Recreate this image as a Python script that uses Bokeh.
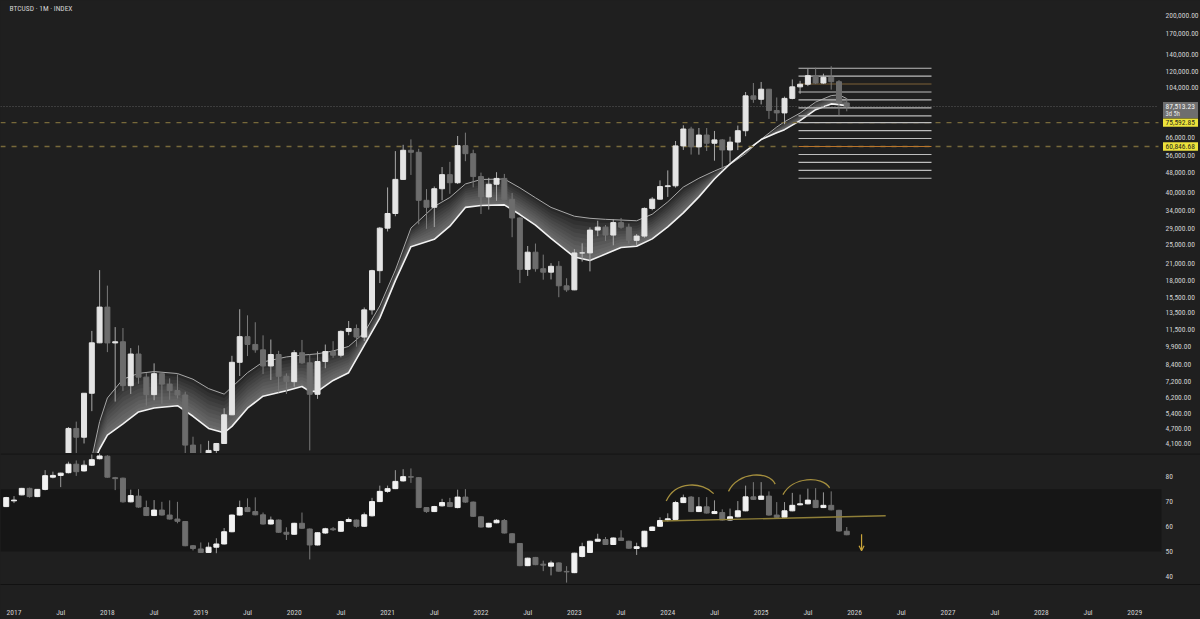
import numpy as np
from bokeh.plotting import figure
from bokeh.layouts import column
from bokeh.models import (Range1d, Label, FixedTicker, BoxAnnotation, Span, Arrow,
                          OpenHead, ColumnDataSource)
from bokeh.embed import file_html
from bokeh.resources import INLINE

# ---------------- data ----------------
months = [f"{y}-{m:02d}" for y in range(2017, 2026) for m in range(1, 13)]

btc_open = [963, 970, 1190, 1080, 1350, 2300, 2480, 2870, 4700, 4340, 6470, 10230,
            14150, 10220, 10330, 6930, 9240, 7490, 6390, 7730, 7030, 6630, 6370, 4040,
            3740, 3460, 3850, 4100, 5320, 8570, 10820, 10080, 9600, 8290, 9200, 7550,
            7190, 9350, 8530, 6410, 8630, 9450, 9140, 11350, 11650, 10780, 13800, 19700,
            28990, 33110, 45140, 58800, 57750, 37330, 35040, 41460, 47130, 43790, 61310, 57000,
            46300, 38480, 43190, 45540, 37640, 31800, 19940, 23300, 20050, 19430, 20500, 17170,
            16550, 23140, 23150, 28480, 29250, 27220, 30480, 29230, 25940, 26970, 34670, 37720,
            42280, 42580, 61180, 71330, 60640, 67530, 62680, 64620, 58970, 63330, 70220, 96400,
            93430, 102400, 84350, 82550, 94200, 104600, 107100, 115800, 108300, 114100, 109600, 90400]
btc_high = [1190, 1200, 1350, 1430, 2760, 2980, 2920, 4760, 5000, 6470, 11400, 19800,
            17200, 11800, 11700, 9750, 9990, 7760, 8490, 7760, 7410, 7680, 6560, 4360,
            4070, 4200, 4120, 5650, 9090, 13880, 13130, 12330, 10950, 10540, 9510, 7750,
            9570, 10500, 9190, 9460, 10070, 10380, 11450, 12470, 12080, 14100, 19860, 29300,
            41950, 58350, 61790, 64900, 59600, 41330, 42320, 50500, 52920, 66930, 69000, 59100,
            47990, 45800, 48190, 47440, 39900, 31990, 24650, 25200, 22790, 21090, 21480, 18390,
            23950, 25250, 29180, 31000, 29820, 31390, 31800, 30190, 27480, 35000, 38420, 44730,
            48970, 63970, 73780, 72800, 71980, 71950, 70080, 65100, 66500, 73600, 99800, 108300,
            109350, 102500, 95000, 95750, 111900, 110500, 123200, 124500, 117900, 126200, 111200, 94500]
btc_low = [750, 920, 890, 1060, 1340, 2080, 1830, 2670, 2970, 4100, 5500, 10200,
           9400, 6000, 6600, 6430, 7050, 5780, 6070, 5880, 6100, 6170, 3650, 3150,
           3400, 3390, 3730, 4100, 5310, 7570, 9070, 9350, 7710, 7300, 6520, 6430,
           6870, 8450, 3850, 6150, 8120, 8930, 8970, 10960, 9880, 10400, 13220, 17600,
           28130, 32300, 44960, 47000, 30000, 28800, 29280, 37330, 39600, 43290, 53250, 42000,
           32950, 34320, 37160, 37700, 26700, 17600, 18780, 19520, 18150, 18190, 15480, 16260,
           16500, 21400, 19570, 26950, 25800, 24800, 28860, 25170, 24900, 26560, 34100, 37630,
           38500, 41880, 59000, 56550, 56500, 58400, 53500, 49000, 52550, 58900, 66800, 90500,
           89200, 78200, 76600, 74500, 93400, 98200, 105300, 107300, 107300, 102000, 80600, 83800]
btc_close = [970, 1190, 1080, 1350, 2300, 2480, 2870, 4700, 4340, 6470, 10230, 14150,
             10220, 10330, 6930, 9240, 7490, 6390, 7730, 7030, 6630, 6370, 4040, 3740,
             3460, 3850, 4100, 5320, 8570, 10820, 10080, 9600, 8290, 9200, 7550, 7190,
             9350, 8530, 6410, 8630, 9450, 9140, 11350, 11650, 10780, 13800, 19700, 28990,
             33110, 45140, 58800, 57750, 37330, 35040, 41460, 47130, 43790, 61310, 57000, 46300,
             38480, 43190, 45540, 37640, 31800, 19940, 23300, 20050, 19430, 20500, 17170, 16550,
             23140, 23150, 28480, 29250, 27220, 30480, 29230, 25940, 26970, 34670, 37720, 42280,
             42580, 61180, 71330, 60640, 67530, 62680, 64620, 58970, 63330, 70220, 96400, 93430,
             102400, 84350, 82550, 94200, 104600, 107100, 115800, 108300, 114100, 109600, 90400, 87513.23]

# ribbon (two bands)
ribbon_months = ["2017-11", "2017-12", "2018-01", "2018-03", "2018-05", "2018-07", "2018-10", "2018-12",
                 "2019-02", "2019-04", "2019-05", "2019-07", "2019-09", "2019-12", "2020-02", "2020-03",
                 "2020-04", "2020-06", "2020-08", "2020-10", "2020-12", "2021-02", "2021-04", "2021-07",
                 "2021-09", "2021-11", "2022-01", "2022-04", "2022-06", "2022-08", "2022-10", "2023-01",
                 "2023-03", "2023-05", "2023-07", "2023-09", "2023-11", "2024-01", "2024-03", "2024-05",
                 "2024-07", "2024-09", "2024-11", "2025-01", "2025-03", "2025-04", "2025-06", "2025-08",
                 "2025-10", "2025-11", "2025-12"]
ribbon_upper = [3600, 5000, 6200, 7350, 7750, 7880, 7740, 7350, 6750, 6420, 6850, 7800, 8600, 9000,
                9150, 9200, 9260, 9500, 9900, 11200, 14300, 19800, 29000, 35300, 38300, 43300, 45100,
                45300, 41800, 38200, 35000, 32300, 31700, 31400, 31200, 31000, 32900, 36800, 42100,
                45600, 48700, 51700, 57000, 65000, 72600, 76200, 82400, 91100, 96600, 97300, 94000]
ribbon_lower = [3300, 3900, 4420, 4900, 5460, 5660, 5780, 5250, 4700, 4520, 4790, 5650, 6300, 6620,
                6880, 6580, 6580, 7270, 7800, 10000, 12800, 18000, 24500, 26200, 29500, 35000, 35600,
                35800, 32800, 29800, 26400, 22300, 21600, 22900, 24300, 24600, 26300, 29300, 33300,
                38500, 45300, 52000, 58300, 64800, 69000, 70900, 77000, 85000, 89600, 89000, 88000]

# price levels drawn to the right
level_values = [123900, 115300, 107300, 99800, 92900, 86400, 80400, 75592.85, 70300, 65400,
                60846.68, 56600, 52700, 49000, 45600]
level_colors = ["#bdbdbd", "#bdbdbd", "#7e6238", "#bdbdbd", "#bdbdbd", "#bdbdbd", "#bdbdbd",
                "#bdbdbd", "#bdbdbd", "#bdbdbd", "#b8742c", "#bdbdbd", "#bdbdbd", "#bdbdbd", "#bdbdbd"]
key_levels = [75592.85, 60846.68]
last_price = 87513.23
countdown = "3d 5h"

price_ticks = [200000, 170000, 140000, 120000, 104000, 66000, 56000, 48000, 40000, 34000, 29000,
               25000, 21000, 18000, 15500, 13500, 11500, 9900, 8400, 7200, 6200, 5400, 4700, 4100]

# RSI candles (Dec 2016 .. Dec 2025)
rsi_months = ["2016-12"] + months
rsi_open = [68.0, 70.3, 72.7, 75.3, 72.0, 74.9, 79.8, 80.5, 81.6, 85.0, 82.3, 84.6, 87.2,
            88.2, 79.6, 79.4, 69.9, 72.2, 67.6, 64.4, 66.6, 64.6, 63.0, 62.0, 52.3,
            51.0, 49.6, 51.7, 53.0, 57.9, 64.6, 67.6, 66.0, 64.7, 61.0, 62.6, 57.7,
            56.9, 61.3, 59.0, 52.6, 57.4, 59.1, 58.1, 62.0, 62.6, 60.1, 64.3, 70.0,
            74.1, 75.2, 78.3, 80.0, 79.6, 67.6, 66.0, 68.3, 69.6, 67.6, 71.8, 69.8,
            63.9, 59.8, 61.5, 62.4, 57.1, 53.2, 44.3, 47.6, 44.9, 44.1, 45.4, 42.0,
            41.5, 48.0, 49.6, 54.1, 54.8, 52.8, 55.4, 54.1, 51.2, 51.9, 58.4, 60.1,
            62.6, 62.8, 69.6, 71.8, 66.0, 67.9, 65.2, 65.6, 62.6, 63.9, 66.3, 71.9,
            70.9, 72.2, 64.6, 63.7, 66.3, 68.7, 69.1, 70.5, 67.6, 68.5, 66.5, 58.1]
rsi_high = [71.9, 72.2, 75.5, 75.6, 75.0, 82.6, 82.0, 81.6, 86.0, 86.5, 86.5, 88.9, 91.0,
            88.6, 79.9, 79.6, 74.8, 75.0, 70.4, 70.6, 69.9, 70.5, 69.9, 62.2, 52.6,
            53.6, 53.6, 55.3, 59.4, 64.8, 70.4, 71.3, 71.7, 65.6, 64.0, 62.8, 59.7,
            61.5, 65.6, 59.2, 57.7, 59.5, 59.8, 62.3, 63.6, 62.8, 65.6, 71.5, 76.4,
            76.4, 82.6, 83.0, 83.3, 79.8, 67.8, 68.3, 71.1, 71.5, 74.8, 75.0, 70.0,
            64.0, 61.5, 63.0, 63.0, 57.3, 53.4, 47.5, 47.8, 46.3, 46.3, 45.6, 44.1,
            49.5, 53.5, 54.3, 57.1, 55.8, 55.6, 58.5, 54.3, 53.5, 58.3, 60.0, 63.7,
            65.3, 70.3, 72.8, 72.2, 71.8, 71.8, 70.5, 66.9, 67.2, 70.2, 76.4, 77.8,
            77.8, 74.1, 69.8, 69.8, 73.5, 72.8, 75.2, 75.4, 73.7, 74.1, 66.7, 59.8]
rsi_low = [67.8, 69.4, 72.5, 71.6, 71.8, 74.5, 79.3, 75.8, 81.3, 80.3, 82.0, 84.3, 86.9,
           79.6, 74.6, 69.6, 69.7, 67.5, 64.2, 64.2, 64.4, 62.8, 61.3, 52.1, 50.4,
           49.4, 49.4, 49.3, 52.8, 57.7, 64.4, 65.8, 64.5, 60.8, 60.8, 57.5, 54.6,
           56.7, 59.1, 46.8, 52.4, 57.0, 58.2, 57.8, 61.9, 59.6, 59.8, 64.0, 69.8,
           73.5, 75.0, 78.0, 77.5, 67.4, 65.5, 65.8, 68.0, 67.8, 67.3, 69.5, 63.9,
           59.6, 59.6, 61.3, 57.2, 53.3, 44.1, 44.1, 44.5, 42.1, 40.4, 41.9, 37.5,
           41.3, 47.6, 49.4, 54.0, 52.6, 52.6, 54.2, 51.1, 48.6, 51.7, 58.2, 59.9,
           62.0, 62.6, 69.4, 65.8, 65.8, 65.2, 65.0, 62.4, 62.4, 63.7, 66.1, 70.7,
           70.7, 64.4, 63.5, 63.5, 66.1, 68.5, 68.9, 67.4, 67.4, 66.5, 58.0, 56.5]
rsi_close = [71.6, 70.6, 75.3, 72.0, 74.9, 80.4, 80.5, 81.4, 85.0, 82.0, 84.6, 86.8, 88.3,
             79.8, 79.2, 69.9, 72.4, 67.8, 64.4, 66.6, 64.6, 63.0, 62.1, 52.3, 51.2,
             49.6, 51.7, 53.0, 57.9, 64.6, 67.6, 66.0, 64.7, 61.0, 62.6, 57.7, 56.9,
             61.3, 59.3, 52.6, 57.5, 59.1, 58.7, 62.0, 62.8, 60.1, 64.7, 70.0, 74.1,
             75.2, 78.1, 80.0, 79.8, 67.6, 66.0, 68.0, 69.6, 68.0, 71.8, 69.8, 64.1,
             59.8, 61.3, 62.5, 57.4, 53.5, 44.3, 47.3, 44.7, 44.5, 45.4, 42.1, 41.8,
             49.3, 51.9, 54.1, 54.9, 52.8, 55.4, 54.4, 51.3, 51.9, 58.1, 59.8, 62.4,
             63.1, 69.6, 71.5, 66.0, 67.9, 65.4, 66.0, 62.6, 63.9, 66.3, 71.9, 70.9,
             72.2, 64.6, 63.7, 66.3, 68.5, 69.1, 70.6, 67.6, 68.5, 66.7, 58.2, 56.7]
rsi_ticks = [80, 70, 60, 50, 40]
rsi_band = [50, 75]

# RSI drawings (month index, RSI value)
trend_x = [83.3, 112.0]
trend_y = [62.2, 64.3]
arc_x0 = [83.8, 91.8, 98.8]
arc_y0 = [70.2, 74.1, 72.8]
arc_cx0 = [85.0, 93.0, 100.0]
arc_cy0 = [78.5, 82.0, 80.0]
arc_cx1 = [88.5, 97.0, 103.8]
arc_cy1 = [78.0, 82.5, 80.5]
arc_x1 = [89.9, 97.8, 104.8]
arc_y1 = [73.2, 77.0, 75.5]
arrow_x = 108.9
arrow_y = [56.9, 50.3]

year_labels = [str(y) for y in range(2017, 2030)]

# ---------------- layout helpers ----------------
BG = "#1f1f1f"
FONT = "Liberation Sans Narrow, Roboto Condensed, Roboto, sans-serif"
TXT = "#d2d2d2"
X0, DX = 13.5, 7.783          # screen px of Jan 2017, px per month
W = 1200
MAIN_H = 453
RSI_H = 166


def midx(s):
    y, m = s.split("-")
    return (int(y) - 2017) * 12 + int(m) - 1


def m_at_px(px):
    return (px - X0) / DX


def v_at_py(py):
    return float(np.exp(12.206 - (py - 15) / 110.1))


xr = Range1d(m_at_px(0), m_at_px(W))

# ---------------- main price panel ----------------
p = figure(width=W, height=MAIN_H, x_range=xr, y_range=Range1d(v_at_py(MAIN_H), v_at_py(0)),
           y_axis_type="log", x_axis_location=None, y_axis_location=None,
           toolbar_location=None, output_backend="svg", min_border=0,
           background_fill_color=BG, border_fill_color=BG, outline_line_color=None)
p.xgrid.visible = False
p.ygrid.visible = False

# ribbon with gradient fill
rx = np.array([midx(s) for s in ribbon_months], dtype=float)
ru = np.array(ribbon_upper, dtype=float)
rl = np.array(ribbon_lower, dtype=float)
nlay = 10
for k in range(1, nlay + 1):
    f = k / nlay
    p.varea(x=rx, y1=rl, y2=rl * (ru / rl) ** f, fill_color="white", fill_alpha=0.042)
p.line(rx, ru, line_color="#a8a8a8", line_width=1)
p.line(rx, rl, line_color="#f2f2f2", line_width=1.6)

# horizontal lines
x_full0, x_full1 = m_at_px(0), m_at_px(1158)
for lv in key_levels:
    p.segment(x0=[x_full0], y0=[lv], x1=[x_full1], y1=[lv], line_color="#77693a",
              line_width=1.3, line_dash="5 6")
p.segment(x0=[x_full0], y0=[last_price], x1=[x_full1], y1=[last_price], line_color="#5e5e5e",
          line_width=1, line_dash="1 2")
lv_x0, lv_x1 = m_at_px(798), m_at_px(931)
p.segment(x0=[lv_x0] * len(level_values), y0=level_values, x1=[lv_x1] * len(level_values),
          y1=level_values, line_color=level_colors, line_width=1.1)

# candles
def draw_candles(fig, xs, o, h, l, c, up_fill, dn_fill, up_wick, dn_wick):
    xs = np.asarray(xs, dtype=float)
    o, h, l, c = (np.asarray(a, dtype=float) for a in (o, h, l, c))
    up = c >= o
    for mask, fill, wick in ((up, up_fill, up_wick), (~up, dn_fill, dn_wick)):
        src = ColumnDataSource(dict(x=xs[mask], top=np.maximum(o, c)[mask],
                                    bottom=np.minimum(o, c)[mask], h=h[mask], l=l[mask]))
        fig.segment(x0="x", y0="l", x1="x", y1="h", source=src, line_color=wick, line_width=1)
        fig.vbar(x="x", width=0.64, top="top", bottom="bottom", source=src,
                 fill_color=fill, line_color=fill, line_width=1)


bx = [midx(s) for s in months]
draw_candles(p, bx, btc_open, btc_high, btc_low, btc_close,
             "#e4e4e4", "#6c6c6c", "#a9a9a9", "#7a7a7a")

# title
p.add_layout(Label(x=9, y=v_at_py(8), x_units="screen", y_units="data", text="BTCUSD · 1M · INDEX",
                   text_font=FONT, text_font_size="7.5px", text_color=TXT,
                   text_baseline="middle", text_align="left"))

# price scale labels
for t in price_ticks:
    p.add_layout(Label(x=1165, y=t, x_units="screen", y_units="data", text=f"{t:,.2f}",
                       text_font=FONT, text_font_size="7.5px", text_color=TXT,
                       text_baseline="middle", text_align="left"))

# label boxes on the price scale
bl, br = m_at_px(1162.5), m_at_px(1197.5)
half = 4.2 / 110.1
p.quad(left=[bl] * len(key_levels), right=[br] * len(key_levels),
       top=[v * np.exp(half) for v in key_levels], bottom=[v * np.exp(-half) for v in key_levels],
       fill_color="#ece23c", line_color=None)
for lv in key_levels:
    p.add_layout(Label(x=1165, y=lv, x_units="screen", y_units="data", text=f"{lv:,.2f}",
                       text_font=FONT, text_font_size="7.5px", text_color="#2a2a1a",
                       text_baseline="middle", text_align="left"))
p.quad(left=[bl], right=[br], top=[last_price * np.exp(4.6 / 110.1)],
       bottom=[last_price * np.exp(-11.6 / 110.1)], fill_color="#6e6e6e", line_color=None)
p.add_layout(Label(x=1165, y=last_price, x_units="screen", y_units="data", text=f"{last_price:,.2f}",
                   text_font=FONT, text_font_size="7.5px", text_color="#f4f4f4",
                   text_baseline="middle", text_align="left"))
p.add_layout(Label(x=1165, y=last_price * np.exp(-7.2 / 110.1), x_units="screen", y_units="data",
                   text=countdown, text_font=FONT, text_font_size="6.5px", text_color="#e6e6e6",
                   text_baseline="middle", text_align="left"))

# ---------------- RSI panel ----------------
q = figure(width=W, height=RSI_H, x_range=xr, y_range=Range1d(36.745, 89.29),
           y_axis_location=None, toolbar_location=None, output_backend="svg",
           min_border=0, min_border_bottom=RSI_H - 134,
           background_fill_color=BG, border_fill_color=BG, outline_line_color=None)
q.xgrid.visible = False
q.ygrid.visible = False

q.add_layout(BoxAnnotation(bottom=rsi_band[0], top=rsi_band[1], right=m_at_px(1161),
                           fill_color="#161616", fill_alpha=1, line_color=None, level="underlay"))
q.add_layout(Span(location=89.1, dimension="width", line_color="#111111", line_width=1,
                  level="underlay"))

rx2 = [midx(s) for s in rsi_months]
draw_candles(q, rx2, rsi_open, rsi_high, rsi_low, rsi_close,
             "#f2f2f2", "#6e6e6e", "#9a9a9a", "#7a7a7a")

gold = "#a58f3e"
q.line(trend_x, trend_y, line_color="#8f7f38", line_width=1.4)
q.bezier(x0=arc_x0, y0=arc_y0, x1=arc_x1, y1=arc_y1, cx0=arc_cx0, cy0=arc_cy0,
         cx1=arc_cx1, cy1=arc_cy1, line_color=gold, line_width=1.3)
q.add_layout(Arrow(end=OpenHead(size=5, line_color="#c9a43a", line_width=1.2),
                   x_start=arrow_x, y_start=arrow_y[0], x_end=arrow_x, y_end=arrow_y[1],
                   line_color="#c9a43a", line_width=1.2))

for t in rsi_ticks:
    q.add_layout(Label(x=1165, y=t, x_units="screen", y_units="data", text=str(t),
                       text_font=FONT, text_font_size="7.5px", text_color=TXT,
                       text_baseline="middle", text_align="left"))

# time axis
tick_pos = list(range(0, 12 * len(year_labels) - 11, 6))
overrides = {}
for t in tick_pos:
    overrides[t] = year_labels[t // 12] if t % 12 == 0 else "Jul"
ax = q.xaxis[0]
ax.ticker = FixedTicker(ticks=tick_pos)
ax.major_label_overrides = overrides
ax.major_tick_line_color = None
ax.minor_tick_line_color = None
ax.axis_line_color = "#111111"
ax.major_label_standoff = 17
ax.major_label_text_font = FONT
ax.major_label_text_font_size = "7.5px"
ax.major_label_text_color = TXT

layout = column(p, q, spacing=0)

html = file_html(layout, INLINE, title="BTCUSD 1M")
html = html.replace("</head>",
                    "<style>html,body{margin:0;padding:0;background:#1f1f1f;overflow:hidden;}</style></head>", 1)
open("out.html", "w").write(html)
